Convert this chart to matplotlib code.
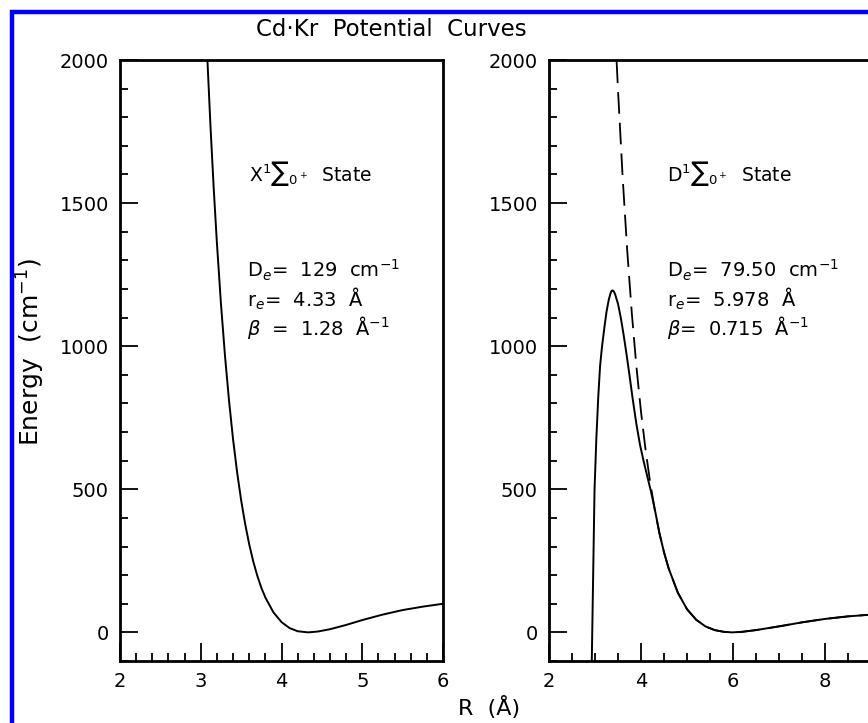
import matplotlib
matplotlib.use("Agg")
import matplotlib.pyplot as plt
from matplotlib.patches import Rectangle
from matplotlib.ticker import MultipleLocator

# X state curve (left panel)
r_x = [3.08, 3.12, 3.16, 3.20, 3.25, 3.30, 3.35, 3.40, 3.45, 3.50, 3.55, 3.60,
       3.65, 3.70, 3.75, 3.80, 3.90, 4.00, 4.10, 4.20, 4.33, 4.45, 4.60, 4.80,
       5.00, 5.25, 5.50, 5.75, 6.00]
e_x = [2016, 1772, 1554, 1361, 1149, 967, 810, 675, 560, 462, 379, 308,
       248, 198, 156, 122, 70, 36, 15, 4, 0, 3, 11, 26,
       43, 62, 78, 90, 100]

# D state, solid curve with barrier (right panel)
r_d = [2.93, 2.96, 2.99, 3.03, 3.07, 3.11, 3.15, 3.20, 3.25, 3.30, 3.34, 3.36,
       3.38, 3.40, 3.42, 3.44, 3.50, 3.56, 3.62, 3.68, 3.75, 3.82, 3.90, 3.98,
       4.06, 4.14, 4.22, 4.30, 4.40, 4.50, 4.60, 4.80, 5.00, 5.20, 5.40, 5.60,
       5.80, 5.978, 6.20, 6.50, 7.00, 7.50, 8.00, 8.50, 9.00]
e_d = [-100, 200, 500, 680, 820, 930, 995, 1060, 1120, 1163, 1186, 1193,
       1195, 1193, 1188, 1180, 1148, 1100, 1042, 978, 898, 815, 728, 654,
       596, 543, 490, 430, 347, 280, 224, 139, 81, 44, 21, 8,
       2, 0, 2, 8, 21, 35, 47, 56, 62]

# D state, dashed curve
r_m = [3.47, 3.50, 3.60, 3.70, 3.80, 3.90, 4.00, 4.10, 4.20, 4.30, 4.40, 4.50,
       4.60, 4.80, 5.00, 5.20, 5.40, 5.60, 5.80, 5.978, 6.20, 6.50, 7.00,
       7.50, 8.00, 8.50, 9.00]
e_m = [1995, 1895, 1593, 1335, 1116, 929, 771, 637, 523, 428, 347, 280,
       224, 139, 81, 44, 21, 8, 2, 0, 2, 8, 21,
       35, 47, 56, 62]

state_labels = [r'X$^1$∑$_{0^+}$  State', r'D$^1$∑$_{0^+}$  State']
params_left = [r'D$_e$=  129  cm$^{-1}$', r'r$_e$=  4.33  Å', r'$\beta$  =  1.28  Å$^{-1}$']
params_right = [r'D$_e$=  79.50  cm$^{-1}$', r'r$_e$=  5.978  Å', r'$\beta$=  0.715  Å$^{-1}$']

plt.rcParams['font.family'] = ['DejaVu Sans']
plt.rcParams['mathtext.fontset'] = 'dejavusans'

W, H = 868, 723
fig = plt.figure(figsize=(W / 100, H / 100), dpi=100)

bot = 1 - 661 / H
hgt = (661 - 60) / H
ax1 = fig.add_axes([120 / W, bot, 323 / W, hgt])
ax2 = fig.add_axes([549 / W, bot, 322 / W, hgt])

ax1.plot(r_x, e_x, color='black', lw=1.4)
ax2.plot(r_m, e_m, color='black', lw=1.3, dashes=(12, 5))
ax2.plot(r_d, e_d, color='black', lw=1.4)

ax1.set_xlim(2, 6)
ax2.set_xlim(2, 9)
for ax in (ax1, ax2):
    ax.set_ylim(-100, 2000)
    ax.yaxis.set_major_locator(MultipleLocator(500))
    ax.yaxis.set_minor_locator(MultipleLocator(100))
    for s in ax.spines.values():
        s.set_linewidth(2.0)
    ax.tick_params(which='both', direction='in', top=False, right=False,
                   labelsize=14, width=1.3, pad=8)
    ax.tick_params(which='major', length=13)
    ax.tick_params(which='minor', length=6)
ax1.xaxis.set_major_locator(MultipleLocator(1))
ax1.xaxis.set_minor_locator(MultipleLocator(0.2))
ax2.xaxis.set_major_locator(MultipleLocator(2))
ax2.xaxis.set_minor_locator(MultipleLocator(0.5))

# state labels and parameters
ax1.text(3.6, 1605, state_labels[0], fontsize=13.5, va='center')
ax2.text(4.57, 1605, state_labels[1], fontsize=13.5, va='center')
for i, (a, b) in enumerate(zip(params_left, params_right)):
    y = 1265 - i * 100
    ax1.text(3.57, y, a, fontsize=14, va='center')
    ax2.text(4.57, y, b, fontsize=14, va='center')

fig.text(391 / W, 1 - 30 / H, 'Cd·Kr  Potential  Curves', fontsize=16.5,
         ha='center', va='center')
fig.text(31 / W, 1 - 352 / H, 'Energy  (cm$^{-1}$)', fontsize=18,
         rotation=90, ha='center', va='center')
fig.text(489 / W, 1 - 707 / H, 'R  (Å)', fontsize=16, ha='center', va='center')

# blue frame, only left and top edges fall inside the picture
fig.patches.append(Rectangle((11.5 / W, -0.2), 1.5, 1 - 11.5 / H + 0.2,
                             transform=fig.transFigure, fill=False,
                             edgecolor='#0000ff', lw=3.2))

fig.savefig('out.png', dpi=100)
